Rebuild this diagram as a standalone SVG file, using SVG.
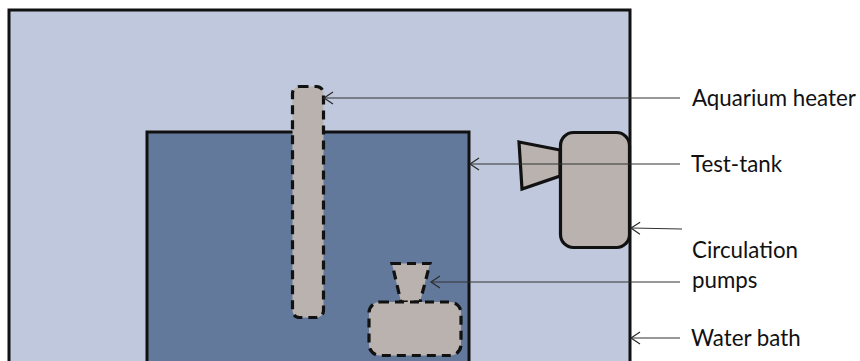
<svg xmlns="http://www.w3.org/2000/svg" width="860" height="361" viewBox="0 0 860 361">
<defs>
<marker id="arrow" markerUnits="userSpaceOnUse" markerWidth="12" markerHeight="14" refX="10" refY="7" orient="auto" overflow="visible"><path d="M1 1 L10 7 L1 13" fill="none" stroke="#2a2a2a" stroke-width="1.2"/></marker>
</defs>
<style>
.solid{stroke:#111;stroke-width:3.2;fill:#bab2ae}
.dash{stroke:#111;stroke-width:3.2;fill:#bab2ae;stroke-dasharray:9 6}
.ln{stroke:#333;stroke-width:1.2;fill:none}
text{font-family:Lato,"Open Sans",sans-serif;font-size:22.3px;fill:#111}
</style>
<rect width="860" height="361" fill="#fff"/>
<g id="water-bath"><rect x="9" y="10" width="621" height="362" fill="#bfc8dc" stroke="#111" stroke-width="3"/></g>
<g id="test-tank"><rect x="147" y="132" width="322" height="240" fill="#62799c" stroke="#111" stroke-width="3"/></g>
<g id="heater"><rect x="292.500" y="86.500" width="31" height="231" rx="7" class="dash"/></g>
<g id="pump-inside">
<path d="M392 263.500 H430 L420 302 H401 Z" class="dash"/>
<rect x="369" y="302" width="92" height="53.500" rx="11" class="dash"/>
</g>
<g id="pump-outside">
<path d="M519 142 L560 150 V176 L522 189 Z" class="solid"/>
<rect x="560.500" y="132.500" width="69" height="115" rx="13" class="solid"/>
</g>
<g id="connectors">
<line x1="680" y1="98" x2="324" y2="98" class="ln" marker-end="url(#arrow)"/>
<line x1="680" y1="164" x2="470" y2="164" class="ln" marker-end="url(#arrow)"/>
<line x1="682" y1="229" x2="631" y2="228" class="ln" marker-end="url(#arrow)"/>
<line x1="680" y1="282" x2="431" y2="282" class="ln" marker-end="url(#arrow)"/>
<line x1="680" y1="338" x2="631" y2="338" class="ln" marker-end="url(#arrow)"/>
</g>
<g id="labels">
<text x="692" y="106">Aquarium heater</text>
<text x="691" y="172">Test-tank</text>
<text x="692" y="258">Circulation</text>
<text x="692" y="288">pumps</text>
<text x="691" y="346">Water bath</text>
</g>
</svg>
